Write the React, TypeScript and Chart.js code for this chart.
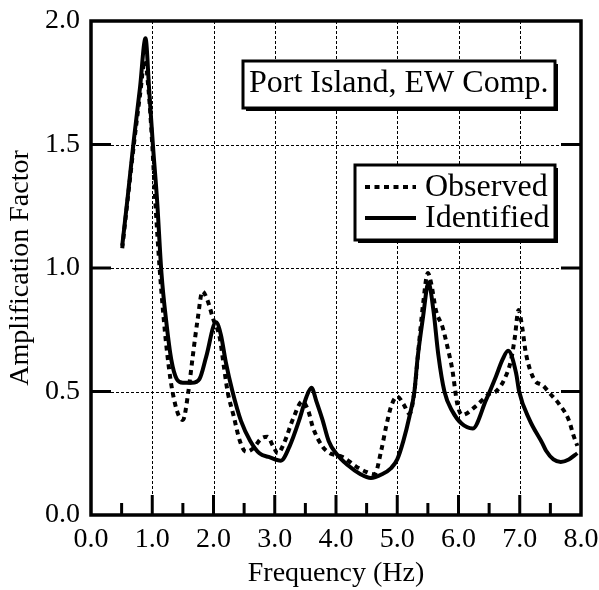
import React, { useEffect, useRef } from "react";
import { Chart, registerables } from "chart.js";

Chart.register(...registerables);

// ---- Data ----
const observedFreq = [
  0.51, 0.6, 0.7, 0.8, 0.88, 0.94, 1.0, 1.05, 1.12, 1.2, 1.27, 1.33, 1.42, 1.5, 1.59, 1.66, 1.74, 1.82,
  1.9, 2.0, 2.1, 2.17, 2.23, 2.33, 2.43, 2.53, 2.65, 2.78, 2.88, 2.97, 3.05, 3.15, 3.3, 3.45, 3.55,
  3.62, 3.78, 3.9, 4.1, 4.33, 4.49, 4.63, 4.74, 4.82, 4.9, 5.0, 5.1, 5.2, 5.28, 5.35, 5.42, 5.5, 5.56,
  5.63, 5.74, 5.82, 5.9, 5.98, 6.06, 6.28, 6.5, 6.61, 6.75, 6.86, 6.92, 6.98, 7.04, 7.1, 7.24, 7.37,
  7.5, 7.64, 7.8, 7.88, 7.94,
];
const observedAmp = [
  1.08, 1.28, 1.5, 1.7, 1.84, 1.72, 1.5, 1.27, 1.0, 0.76, 0.6, 0.5, 0.41, 0.385, 0.5, 0.64, 0.79, 0.905,
  0.87, 0.79, 0.72, 0.6, 0.5, 0.4, 0.3, 0.256, 0.27, 0.31, 0.317, 0.28, 0.25, 0.29, 0.39, 0.46, 0.42,
  0.357, 0.277, 0.25, 0.236, 0.196, 0.175, 0.165, 0.263, 0.36, 0.44, 0.48, 0.45, 0.41, 0.5, 0.68, 0.85, 0.98, 0.93,
  0.83, 0.76, 0.68, 0.587, 0.45, 0.405, 0.44, 0.49, 0.5, 0.55, 0.63, 0.72, 0.83, 0.76, 0.655, 0.547, 0.526,
  0.49, 0.45, 0.385, 0.32, 0.28,
];
const identifiedFreq = [
  0.51, 0.6, 0.7, 0.8, 0.89, 0.95, 1.01, 1.08, 1.15, 1.23, 1.31, 1.4, 1.5, 1.65, 1.77, 1.88, 2.04,
  2.12, 2.2, 2.31, 2.45, 2.6, 2.75, 2.9, 3.1, 3.24, 3.4, 3.52, 3.6, 3.68, 3.78, 3.88, 4.0, 4.2, 4.4,
  4.57, 4.75, 4.9, 5.0, 5.1, 5.2, 5.28, 5.33, 5.42, 5.51, 5.59, 5.67, 5.77, 5.9, 6.05, 6.23, 6.45,
  6.61, 6.72, 6.81, 6.94, 6.99, 7.16, 7.37, 7.43, 7.55, 7.67, 7.8, 7.94,
];
const identifiedAmp = [
  1.09, 1.29, 1.52, 1.73, 1.93, 1.72, 1.5, 1.27, 0.98, 0.78, 0.63, 0.55, 0.535, 0.535, 0.55, 0.64, 0.78,
  0.73, 0.62, 0.5, 0.38, 0.3, 0.25, 0.235, 0.22, 0.277, 0.385, 0.48, 0.515, 0.46, 0.385, 0.3, 0.25, 0.2, 0.165,
  0.15, 0.165, 0.19, 0.225, 0.3, 0.4, 0.5, 0.63, 0.8, 0.94, 0.83, 0.65, 0.5, 0.42, 0.37, 0.35, 0.466,
  0.56, 0.63, 0.665, 0.575, 0.5, 0.385, 0.29, 0.26, 0.225, 0.215, 0.225, 0.25,
];
const seriesLabels = ["Observed", "Identified"];
const xMajorTicks = [0, 1, 2, 3, 4, 5, 6, 7, 8];
const xMinorTicks = [0.5, 1.5, 2.5, 3.5, 4.5, 5.5, 6.5, 7.5];
const yMajorTicks = [0, 0.5, 1.0, 1.5, 2.0];
const chartTitle = "Port Island, EW Comp.";
const xAxisTitle = "Frequency (Hz)";
const yAxisTitle = "Amplification Factor";

const FONT = "'Liberation Serif', 'Times New Roman', serif";

const decorPlugin = {
  id: "decor",
  beforeDatasetsDraw(chart: any) {
    const { ctx, chartArea: a, scales } = chart;
    const x = scales.x;
    const y = scales.y;
    ctx.save();
    ctx.strokeStyle = "#000";
    ctx.lineWidth = 1;
    ctx.setLineDash([3, 2]);
    for (const v of xMajorTicks.slice(1, -1)) {
      const px = Math.round(x.getPixelForValue(v)) + 0.5;
      ctx.beginPath();
      ctx.moveTo(px, a.top);
      ctx.lineTo(px, a.bottom);
      ctx.stroke();
    }
    for (const v of yMajorTicks.slice(1, -1)) {
      const py = Math.round(y.getPixelForValue(v)) + 0.5;
      ctx.beginPath();
      ctx.moveTo(a.left, py);
      ctx.lineTo(a.right, py);
      ctx.stroke();
    }
    ctx.restore();
  },
  afterDatasetsDraw(chart: any) {
    const { ctx, chartArea: a, scales } = chart;
    const x = scales.x;
    const y = scales.y;
    ctx.save();
    ctx.setLineDash([]);
    ctx.strokeStyle = "#000";
    ctx.fillStyle = "#000";
    // tick marks (inside)
    ctx.lineWidth = 3;
    for (const v of xMajorTicks.slice(1, -1)) {
      const px = x.getPixelForValue(v);
      ctx.beginPath();
      ctx.moveTo(px, a.bottom);
      ctx.lineTo(px, a.bottom - 20);
      ctx.stroke();
    }
    for (const v of xMinorTicks) {
      const px = x.getPixelForValue(v);
      ctx.beginPath();
      ctx.moveTo(px, a.bottom);
      ctx.lineTo(px, a.bottom - 12);
      ctx.stroke();
    }
    for (const v of yMajorTicks.slice(1, -1)) {
      const py = y.getPixelForValue(v);
      ctx.beginPath();
      ctx.moveTo(a.left, py);
      ctx.lineTo(a.left + 20, py);
      ctx.moveTo(a.right, py);
      ctx.lineTo(a.right - 20, py);
      ctx.stroke();
    }
    // frame
    ctx.lineWidth = 3.5;
    ctx.strokeRect(a.left, a.top, a.right - a.left, a.bottom - a.top);

    const drawBox = (bx: number, by: number, bw: number, bh: number) => {
      ctx.fillStyle = "#000";
      ctx.fillRect(bx + 3, by + 3, bw, bh);
      ctx.fillStyle = "#fff";
      ctx.fillRect(bx, by, bw, bh);
      ctx.lineWidth = 3;
      ctx.strokeStyle = "#000";
      ctx.strokeRect(bx, by, bw, bh);
    };
    // title box
    const tx = a.right - 338;
    const ty = a.top + 40;
    drawBox(tx, ty, 312, 47);
    ctx.fillStyle = "#000";
    ctx.font = `32px ${FONT}`;
    ctx.textBaseline = "alphabetic";
    ctx.textAlign = "left";
    ctx.fillText(chartTitle, tx + 6, ty + 31);

    // legend box
    const lx = a.right - 226;
    const ly = a.top + 144;
    drawBox(lx, ly, 200, 75);
    const ds = chart.data.datasets;
    const rows = [ly + 22, ly + 53];
    ds.forEach((d: any, i: number) => {
      ctx.save();
      ctx.strokeStyle = "#000";
      ctx.lineWidth = d.borderWidth;
      ctx.setLineDash(d.borderDash || []);
      ctx.beginPath();
      ctx.moveTo(lx + 10, rows[i]);
      ctx.lineTo(lx + 61, rows[i]);
      ctx.stroke();
      ctx.restore();
      ctx.fillStyle = "#000";
      ctx.font = `32px ${FONT}`;
      ctx.fillText(d.label, lx + 70, rows[i] + 9);
    });
    ctx.restore();
  },
};

const zeroPad = (s: any) => {
  s.paddingTop = 0;
  s.paddingBottom = 0;
  s.paddingLeft = 0;
  s.paddingRight = 0;
};

export default function App() {
  const ref = useRef<HTMLCanvasElement>(null);
  useEffect(() => {
    if (!ref.current) return;
    const chart = new Chart(ref.current, {
      type: "line",
      data: {
        datasets: [
          {
            label: seriesLabels[0],
            data: observedFreq.map((f, i) => ({ x: f, y: observedAmp[i] })),
            borderColor: "#000",
            borderWidth: 4,
            borderDash: [5, 4.5],
            pointRadius: 0,
            fill: false,
            cubicInterpolationMode: "monotone",
          },
          {
            label: seriesLabels[1],
            data: identifiedFreq.map((f, i) => ({ x: f, y: identifiedAmp[i] })),
            borderColor: "#000",
            borderWidth: 4,
            pointRadius: 0,
            fill: false,
            cubicInterpolationMode: "monotone",
          },
        ],
      },
      options: {
        responsive: false,
        animation: false,
        devicePixelRatio: 1,
        layout: { padding: { top: 21, right: 18, left: 0, bottom: 0 } },
        plugins: { legend: { display: false }, tooltip: { enabled: false } },
        scales: {
          x: {
            type: "linear",
            min: 0,
            max: 8,
            afterFit: (s: any) => {
              s.height = 75;
              zeroPad(s);
            },
            afterBuildTicks: (s: any) => {
              s.ticks = xMajorTicks.map((v) => ({ value: v }));
            },
            grid: { display: false, drawTicks: false },
            border: { display: false },
            ticks: {
              color: "#000",
              padding: 8,
              maxRotation: 0,
              autoSkip: false,
              font: { family: FONT, size: 28 },
              callback: (v: any) => Number(v).toFixed(1),
            },
            title: {
              display: true,
              text: xAxisTitle,
              color: "#000",
              font: { family: FONT, size: 28 },
              padding: { top: 0, bottom: 0 },
            },
          },
          y: {
            type: "linear",
            min: 0,
            max: 2,
            afterFit: (s: any) => {
              s.width = 91;
              zeroPad(s);
            },
            afterBuildTicks: (s: any) => {
              s.ticks = yMajorTicks.map((v) => ({ value: v }));
            },
            grid: { display: false, drawTicks: false },
            border: { display: false },
            ticks: {
              color: "#000",
              padding: 11,
              autoSkip: false,
              font: { family: FONT, size: 28 },
              callback: (v: any) => Number(v).toFixed(1),
            },
            title: {
              display: true,
              text: yAxisTitle,
              color: "#000",
              font: { family: FONT, size: 28 },
              padding: { top: 4, bottom: 0 },
            },
          },
        },
      },
      plugins: [decorPlugin],
    } as any);
    return () => chart.destroy();
  }, []);
  return (
    <div style={{ position: "fixed", left: 0, top: 0, width: 599, height: 590, background: "#fff" }}>
      <canvas ref={ref} width={599} height={590} style={{ display: "block" }} />
    </div>
  );
}
